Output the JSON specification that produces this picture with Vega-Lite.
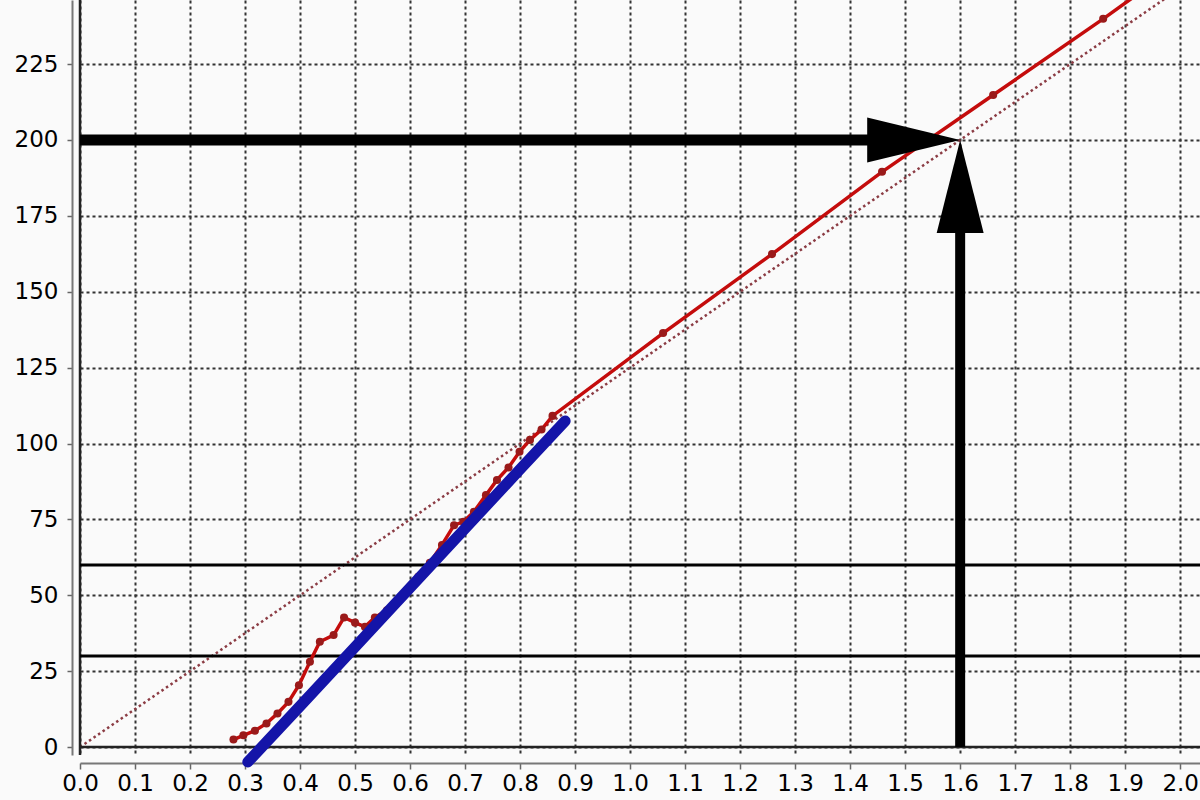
{
  "$schema": "https://vega.github.io/schema/vega-lite/v6.json",
  "autosize": "none",
  "width": 1120,
  "height": 755,
  "padding": {"left": 80, "top": 0, "right": 0, "bottom": 45},
  "background": "#fafafa",
  "config": {"view": {"stroke": null}},
  "datasets": {
    "red": [
      {"x": 0.279, "y": 2.5}, {"x": 0.297, "y": 3.9}, {"x": 0.318, "y": 5.4}, {"x": 0.339, "y": 7.8},
      {"x": 0.359, "y": 11.1}, {"x": 0.379, "y": 14.9}, {"x": 0.398, "y": 20.4}, {"x": 0.418, "y": 28.1},
      {"x": 0.436, "y": 34.7}, {"x": 0.461, "y": 36.9}, {"x": 0.48, "y": 42.7}, {"x": 0.5, "y": 41.0},
      {"x": 0.518, "y": 39.6}, {"x": 0.536, "y": 42.7}, {"x": 0.558, "y": 45.1}, {"x": 0.576, "y": 47.9},
      {"x": 0.597, "y": 51.9}, {"x": 0.615, "y": 56.1}, {"x": 0.636, "y": 60.7}, {"x": 0.658, "y": 66.6},
      {"x": 0.68, "y": 73.1}, {"x": 0.697, "y": 74.2}, {"x": 0.716, "y": 77.5}, {"x": 0.738, "y": 83.0},
      {"x": 0.758, "y": 88.0}, {"x": 0.779, "y": 92.1}, {"x": 0.799, "y": 97.3}, {"x": 0.818, "y": 101.2},
      {"x": 0.839, "y": 104.6}, {"x": 0.859, "y": 109.1}, {"x": 1.06, "y": 136.4}, {"x": 1.258, "y": 162.4},
      {"x": 1.458, "y": 189.5}, {"x": 1.66, "y": 214.8}, {"x": 1.86, "y": 239.9}, {"x": 2.03, "y": 262.0}
    ],
    "blue": [
      {"x": 0.305, "y": -4.9}, {"x": 0.40, "y": 13.5}, {"x": 0.50, "y": 33.0}, {"x": 0.60, "y": 52.5},
      {"x": 0.70, "y": 72.0}, {"x": 0.80, "y": 91.5}, {"x": 0.882, "y": 107.4}
    ],
    "ref": [{"x": 0, "y": 0}, {"x": 2.036, "y": 254.5}],
    "hlines": [{"y": 30}, {"y": 60}]
  },
  "layer": [
    {
      "data": {"name": "ref"},
      "mark": {"type": "line", "clip": true, "color": "#8b3c44", "strokeWidth": 2.5, "strokeDash": [2.5, 3]},
      "encoding": {
        "x": {"field": "x", "type": "quantitative",
          "scale": {"domain": [0, 2.036], "nice": false, "zero": false},
          "axis": {
            "values": [0, 0.1, 0.2, 0.3, 0.4, 0.5, 0.6, 0.7, 0.8, 0.9, 1.0, 1.1, 1.2, 1.3, 1.4, 1.5, 1.6, 1.7, 1.8, 1.9, 2.0],
            "format": ".1f", "offset": 8, "title": null,
            "grid": true, "gridDash": [3, 3], "gridColor": "#333", "gridWidth": 2, "gridOpacity": 1,
            "domainColor": "#777", "domainWidth": 2, "tickColor": "#666", "tickSize": 6, "tickWidth": 1.5,
            "labelFont": "DejaVu Sans", "labelFontSize": 23, "labelColor": "#000", "labelPadding": 3,
            "labelOverlap": false, "labelFlush": false
          }
        },
        "y": {"field": "y", "type": "quantitative",
          "scale": {"domain": [-2.6, 246.1], "nice": false, "zero": false},
          "axis": {
            "values": [0, 25, 50, 75, 100, 125, 150, 175, 200, 225],
            "offset": 8, "title": null,
            "grid": true, "gridDash": [3, 3], "gridColor": "#333", "gridWidth": 2, "gridOpacity": 1,
            "domainColor": "#777", "domainWidth": 2, "tickColor": "#666", "tickSize": 5, "tickWidth": 1.5,
            "labelFont": "DejaVu Sans", "labelFontSize": 23, "labelColor": "#000", "labelPadding": 9,
            "labelOverlap": false, "labelFlush": false
          }
        }
      }
    },
    {
      "data": {"values": [{"y": 0}]},
      "mark": {"type": "rule", "color": "#222", "strokeWidth": 2.5},
      "encoding": {"y": {"field": "y", "type": "quantitative"}}
    },
    {
      "data": {"values": [{"x": 0}]},
      "mark": {"type": "rule", "color": "#222", "strokeWidth": 2.5},
      "encoding": {"x": {"field": "x", "type": "quantitative"}}
    },
    {
      "data": {"name": "hlines"},
      "mark": {"type": "rule", "color": "#000", "strokeWidth": 3},
      "encoding": {"y": {"field": "y", "type": "quantitative"}}
    },
    {
      "data": {"name": "red"},
      "mark": {"type": "line", "clip": true, "color": "#c40c0c", "strokeWidth": 3.5},
      "encoding": {"x": {"field": "x", "type": "quantitative"}, "y": {"field": "y", "type": "quantitative"}}
    },
    {
      "data": {"name": "red"},
      "transform": [{"filter": "datum.x < 2"}],
      "mark": {"type": "point", "filled": true, "color": "#9a1a1a", "size": 65, "opacity": 1},
      "encoding": {"x": {"field": "x", "type": "quantitative"}, "y": {"field": "y", "type": "quantitative"}}
    },
    {
      "data": {"name": "blue"},
      "mark": {"type": "line", "clip": false, "color": "#1414a8", "strokeWidth": 11, "strokeCap": "round"},
      "encoding": {"x": {"field": "x", "type": "quantitative"}, "y": {"field": "y", "type": "quantitative"}}
    },
    {
      "data": {"values": [{"x": 0, "x2": 1.45, "y": 200}]},
      "mark": {"type": "rule", "color": "#000", "strokeWidth": 11},
      "encoding": {"x": {"field": "x", "type": "quantitative"}, "x2": {"field": "x2"}, "y": {"field": "y", "type": "quantitative"}}
    },
    {
      "data": {"values": [{"x": 1.6, "y": 0, "y2": 186}]},
      "mark": {"type": "rule", "color": "#000", "strokeWidth": 10},
      "encoding": {"x": {"field": "x", "type": "quantitative"}, "y": {"field": "y", "type": "quantitative"}, "y2": {"field": "y2"}}
    },
    {
      "data": {"values": [{"x": 1.5155, "y": 200}]},
      "mark": {"type": "point", "shape": "M-1,-0.484L1,0L-1,0.484Z", "size": 8649, "filled": true, "color": "#000", "opacity": 1, "strokeWidth": 0},
      "encoding": {"x": {"field": "x", "type": "quantitative"}, "y": {"field": "y", "type": "quantitative"}}
    },
    {
      "data": {"values": [{"x": 1.6, "y": 184.7}]},
      "mark": {"type": "point", "shape": "M-0.505,1L0,-1L0.505,1Z", "size": 8649, "filled": true, "color": "#000", "opacity": 1, "strokeWidth": 0},
      "encoding": {"x": {"field": "x", "type": "quantitative"}, "y": {"field": "y", "type": "quantitative"}}
    }
  ]
}
